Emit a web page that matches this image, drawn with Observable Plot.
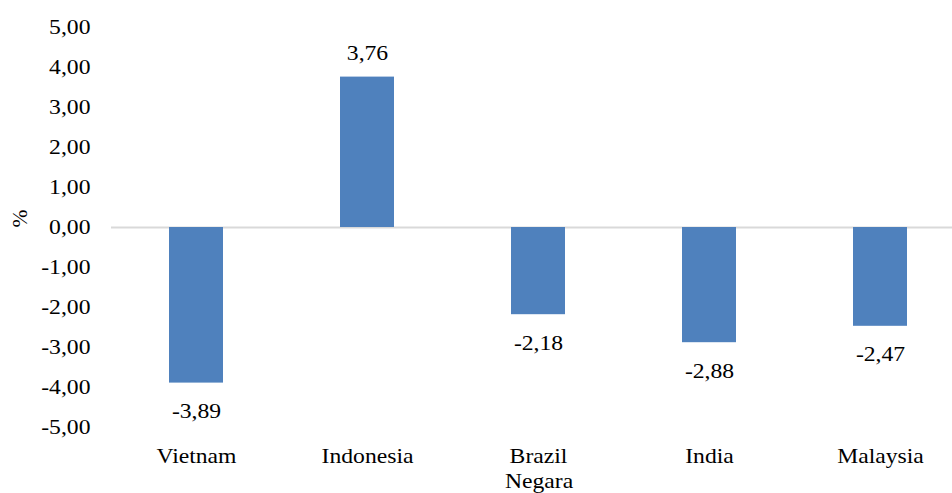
<!DOCTYPE html>
<html>
<head>
<meta charset="utf-8">
<script src="https://cdn.jsdelivr.net/npm/d3@7"></script>
<script src="https://cdn.jsdelivr.net/npm/@observablehq/plot@0.6"></script>
<style>
  html, body { margin: 0; padding: 0; background: #fff; overflow: hidden; }
  #chart svg text { font-family: "Liberation Serif", "Times New Roman", serif !important; font-size: 21.5px !important; }
</style>
</head>
<body>
<div id="chart"></div>
<script>
// Perubahan (%) per negara
const countries = ["Vietnam", "Indonesia", "Brazil", "India", "Malaysia"];
const changes = [-3.89, 3.76, -2.18, -2.88, -2.47];
const yTicks = [5, 4, 3, 2, 1, 0, -1, -2, -3, -4, -5];

const rows = countries.map((negara, i) => ({negara, nilai: changes[i]}));
const fmt = v => v.toFixed(2).replace(".", ",");
const FS = 21.5;
const WIDEN = 1.1; // the serif labels are set slightly wide

const chart = Plot.plot({
  width: 952,
  height: 493,
  marginLeft: 111,
  marginRight: -14,
  marginTop: 27,
  marginBottom: 66,
  style: {color: "#000", background: "#fff", overflow: "hidden"},
  x: {domain: countries, paddingInner: 0.684, paddingOuter: 0.342, label: null},
  y: {domain: [-5, 5], label: null},
  marks: [
    Plot.axisY({ticks: yTicks, tickSize: 0, tickPadding: 21, tickFormat: fmt, label: null, fontSize: FS}),
    Plot.axisX({tickSize: 0, tickPadding: 20, label: null, fontSize: FS}),
    Plot.ruleY([0], {stroke: "#d9d9d9", strokeWidth: 2}),
    Plot.barY(rows, {x: "negara", y: "nilai", fill: "#4F81BD"}),
    Plot.text(rows.filter(d => d.nilai >= 0), {x: "negara", y: "nilai", text: d => fmt(d.nilai), dy: -24, fontSize: FS, fill: "#000"}),
    Plot.text(rows.filter(d => d.nilai < 0), {x: "negara", y: "nilai", text: d => fmt(d.nilai), dy: 28, fontSize: FS, fill: "#000"}),
    Plot.text(["%"], {frameAnchor: "left", dx: -91, rotate: -90, text: d => d, fontSize: FS, fill: "#000"}),
    Plot.text(["Negara"], {frameAnchor: "bottom", dy: 60, text: d => d, fontSize: FS, fill: "#000"})
  ]
});

// widen each horizontal label about its own anchor point
chart.querySelectorAll("text").forEach(t => {
  const base = t.getAttribute("transform") || "";
  if (base.includes("rotate")) return;
  const x = parseFloat(t.getAttribute("x")) || 0;
  t.setAttribute("transform", `${base} translate(${x},0) scale(${WIDEN},1) translate(${-x},0)`.trim());
});

document.getElementById("chart").appendChild(chart);
</script>
</body>
</html>
